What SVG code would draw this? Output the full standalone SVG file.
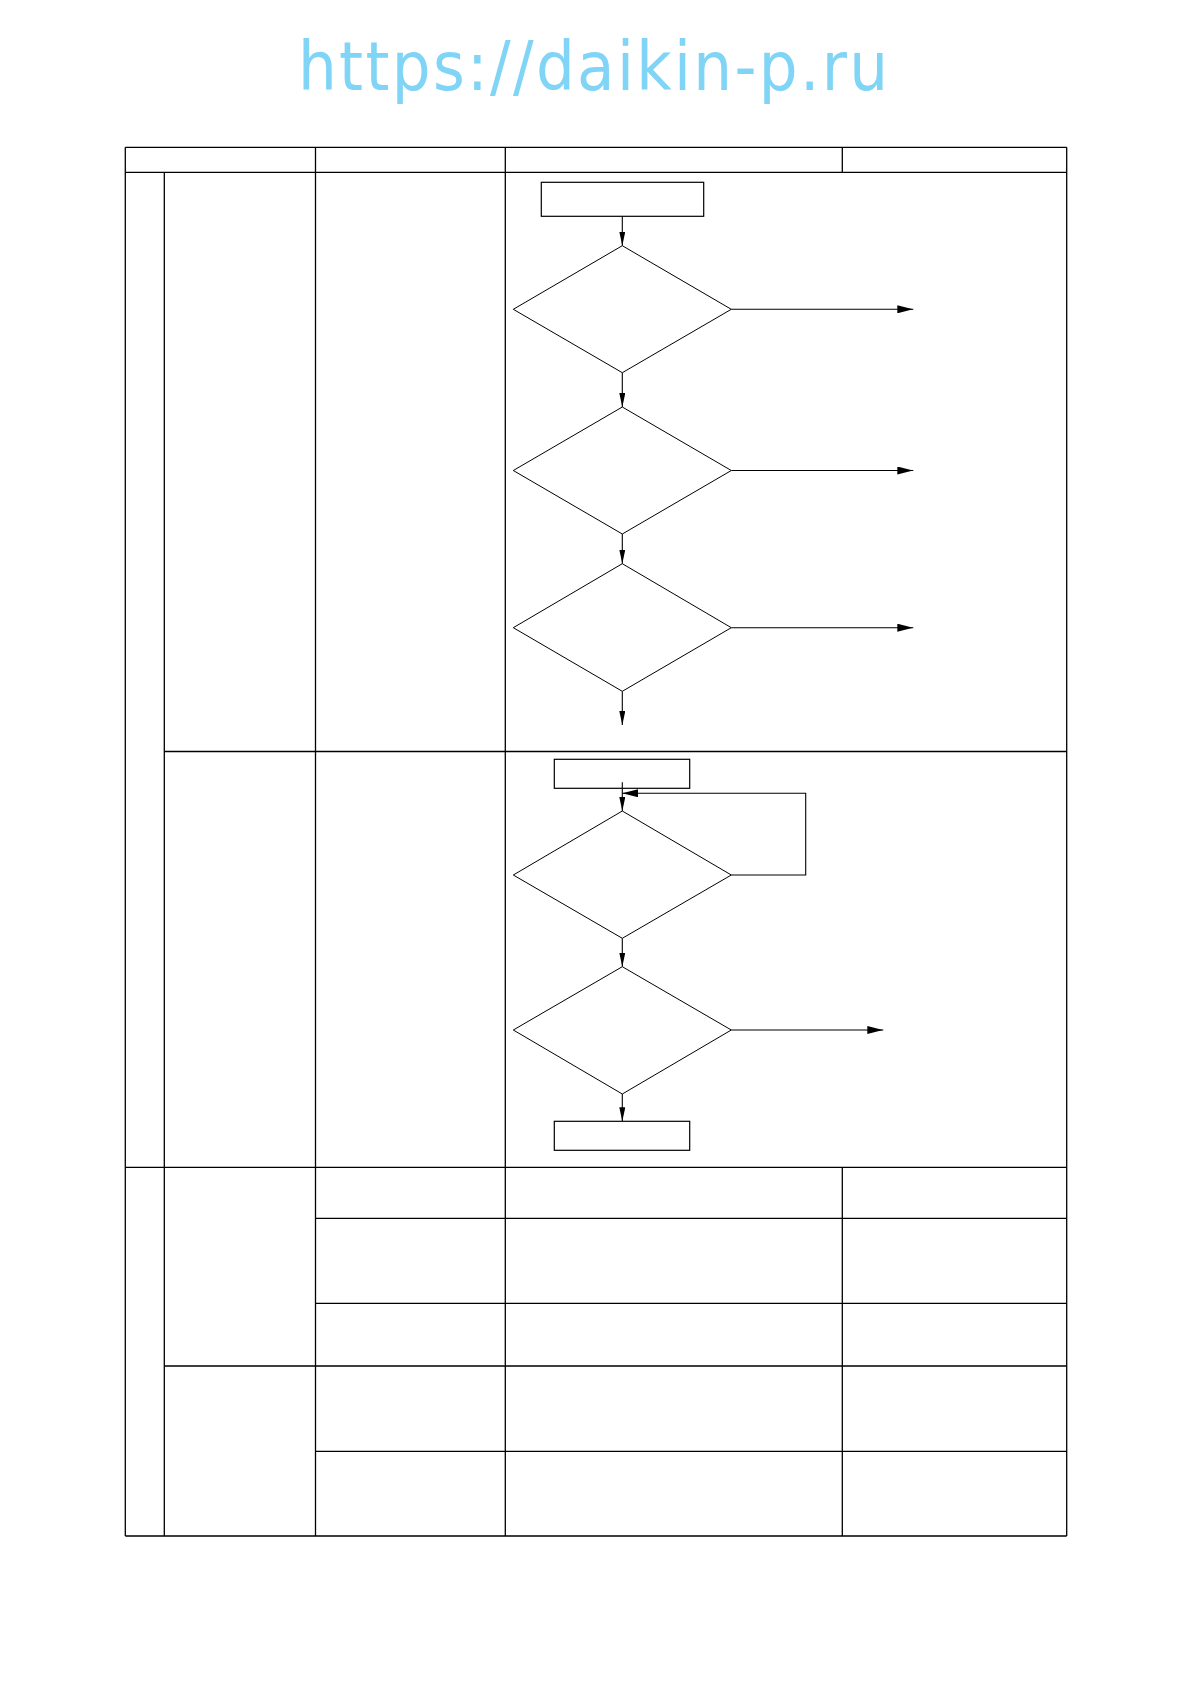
<svg xmlns="http://www.w3.org/2000/svg" width="1190" height="1684" viewBox="0 0 1190 1684">
<style>
.grid{stroke:#000;stroke-width:1.3;fill:none}
.shape{stroke:#000;stroke-width:1;fill:#fff}
.box{stroke:#000;stroke-width:1.2;fill:#fff}
.conn{stroke:#000;stroke-width:1.1;fill:none}
.wm{font-family:"DejaVu Sans Condensed","DejaVu Sans",sans-serif;font-stretch:condensed;font-size:68px;fill:#80d4f6}
</style>
<defs>
<marker id="ah" markerUnits="userSpaceOnUse" markerWidth="16" markerHeight="8" refX="16" refY="4" orient="auto" viewBox="0 0 16 8"><path d="M0,0 L16,4 L0,8 z" fill="#000"/></marker>
<marker id="av" markerUnits="userSpaceOnUse" markerWidth="14" markerHeight="6" refX="14" refY="3" orient="auto" viewBox="0 0 14 6"><path d="M0,0 L14,3 L0,6 z" fill="#000"/></marker>
</defs>
<rect width="1190" height="1684" fill="#fff"/>
<text class="wm" x="298" y="90" textLength="590" lengthAdjust="spacing">https://daikin-p.ru</text>
<g id="table" class="grid">
<path d="M125.3,147.3H1066.7M125.3,172.3H1066.7M164.3,751.5H1066.7M125.3,1167.3H1066.7M315.5,1218.3H1066.7M315.5,1303.3H1066.7M164.3,1366H1066.7M315.5,1451.3H1066.7M125.3,1536H1066.7"/>
<path d="M125.3,147.3V1536M164.3,172.3V1536M315.5,147.3V1536M505.3,147.3V1536M842.3,147.3V172.3M842.3,1167.3V1536M1066.7,147.3V1536"/>
</g>
<g id="connectors" class="conn">
<line x1="622.3" y1="216.3" x2="622.3" y2="245.7" marker-end="url(#av)"/>
<line x1="622.3" y1="372.7" x2="622.3" y2="407" marker-end="url(#av)"/>
<line x1="622.3" y1="534" x2="622.3" y2="563.7" marker-end="url(#av)"/>
<line x1="622.3" y1="691.3" x2="622.3" y2="725" marker-end="url(#av)"/>
<line x1="731.3" y1="309.3" x2="913.3" y2="309.3" marker-end="url(#ah)"/>
<line x1="731.3" y1="470.5" x2="913.3" y2="470.5" marker-end="url(#ah)"/>
<line x1="731.3" y1="627.7" x2="913.3" y2="627.7" marker-end="url(#ah)"/>
<line x1="622.3" y1="782.3" x2="622.3" y2="811" marker-end="url(#av)"/>
<polyline points="731.3,875 805.7,875 805.7,793.3 622.3,793.3" marker-end="url(#ah)"/>
<line x1="622.3" y1="938.3" x2="622.3" y2="966.7" marker-end="url(#av)"/>
<line x1="731.3" y1="1030" x2="883.3" y2="1030" marker-end="url(#ah)"/>
<line x1="622.3" y1="1094" x2="622.3" y2="1121.3" marker-end="url(#av)"/>
</g>
<g id="start1"><rect class="box" x="541.3" y="182.3" width="162.4" height="34"/></g>
<g id="dec1"><polygon class="shape" points="622.3,245.7 731.3,309.3 622.3,372.7 513.3,309.3"/></g>
<g id="dec2"><polygon class="shape" points="622.3,407 731.3,470.5 622.3,534 513.3,470.5"/></g>
<g id="dec3"><polygon class="shape" points="622.3,563.7 731.3,627.7 622.3,691.3 513.3,627.7"/></g>
<g id="start2"><rect class="box" x="554.3" y="759.3" width="135.4" height="29"/></g>
<line class="conn" x1="622.3" y1="782.3" x2="622.3" y2="788.3"/>
<g id="dec4"><polygon class="shape" points="622.3,811 731.3,875 622.3,938.3 513.3,875"/></g>
<g id="dec5"><polygon class="shape" points="622.3,966.7 731.3,1030 622.3,1094 513.3,1030"/></g>
<g id="end2"><rect class="box" x="554.3" y="1121.3" width="135.4" height="29"/></g>
</svg>
